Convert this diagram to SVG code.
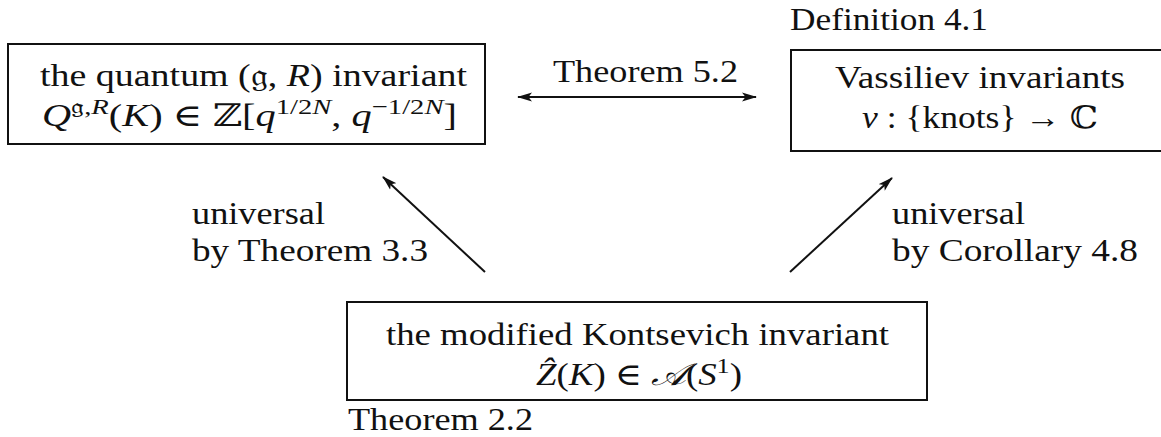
<svg xmlns="http://www.w3.org/2000/svg" width="1161" height="437" viewBox="0 0 1161 437">
<style>
text{font-family:"Liberation Serif","DejaVu Serif",serif;font-size:31px;fill:#111}
.m{font-style:italic}
.box{fill:none;stroke:#111;stroke-width:2}
.edge{stroke:#111;stroke-width:2;fill:none}
.sup{font-size:22px}
.fr{font-family:"DejaVu Serif",serif;font-style:normal}
</style>
<defs>
<marker id="ah" viewBox="0 0 15 10" refX="14" refY="5" markerWidth="15" markerHeight="10" markerUnits="userSpaceOnUse" orient="auto-start-reverse">
<path d="M0,0.5 L15,5 L0,9.5 L3.5,5 Z" fill="#111"/>
</marker>
</defs>
<rect width="1161" height="437" fill="#fff"/>
<g id="quantum">
<rect class="box" x="8" y="44" width="477" height="100"/>
<text x="40" y="86" textLength="427" lengthAdjust="spacingAndGlyphs">the quantum (<tspan class="fr">𝔤</tspan>, <tspan class="m">R</tspan>) invariant</text>
<text x="42" y="126" textLength="415" lengthAdjust="spacingAndGlyphs"><tspan class="m">Q</tspan><tspan class="sup" dy="-12"><tspan class="fr">𝔤</tspan>,<tspan class="m">R</tspan></tspan><tspan dy="12">(</tspan><tspan class="m">K</tspan>) ∈ ℤ[<tspan class="m">q</tspan><tspan class="sup" dy="-12">1/2<tspan class="m">N</tspan></tspan><tspan dy="12">, </tspan><tspan class="m">q</tspan><tspan class="sup" dy="-12">−1/2<tspan class="m">N</tspan></tspan><tspan dy="12">]</tspan></text>
</g>
<g id="vassiliev">
<text x="790" y="30" textLength="198" lengthAdjust="spacingAndGlyphs">Definition 4.1</text>
<rect class="box" x="791" y="50" width="380" height="101"/>
<text x="835" y="88" textLength="290" lengthAdjust="spacingAndGlyphs">Vassiliev invariants</text>
<text x="862" y="128" textLength="236" lengthAdjust="spacingAndGlyphs"><tspan class="m">v</tspan> : {knots} → ℂ</text>
</g>
<g id="kontsevich">
<rect class="box" x="347" y="302" width="580" height="98"/>
<text x="386" y="345" textLength="503" lengthAdjust="spacingAndGlyphs">the modified Kontsevich invariant</text>
<text x="536" y="385" textLength="206" lengthAdjust="spacingAndGlyphs"><tspan class="m">Ẑ</tspan>(<tspan class="m">K</tspan>) ∈ <tspan class="m">𝒜</tspan>(<tspan class="m">S</tspan><tspan class="sup" dy="-12">1</tspan><tspan dy="12">)</tspan></text>
<text x="348" y="430" textLength="185" lengthAdjust="spacingAndGlyphs">Theorem 2.2</text>
</g>
<g id="connectors">
<line class="edge" x1="518" y1="97" x2="756" y2="97" marker-start="url(#ah)" marker-end="url(#ah)"/>
<text x="553" y="82" textLength="185" lengthAdjust="spacingAndGlyphs">Theorem 5.2</text>
<line class="edge" x1="485" y1="272" x2="383" y2="177" marker-end="url(#ah)"/>
<text x="192" y="224" textLength="133" lengthAdjust="spacingAndGlyphs">universal</text>
<text x="192" y="261" textLength="236" lengthAdjust="spacingAndGlyphs">by Theorem 3.3</text>
<line class="edge" x1="790" y1="272" x2="892" y2="178" marker-end="url(#ah)"/>
<text x="892" y="224" textLength="133" lengthAdjust="spacingAndGlyphs">universal</text>
<text x="892" y="261" textLength="246" lengthAdjust="spacingAndGlyphs">by Corollary 4.8</text>
</g>
</svg>
